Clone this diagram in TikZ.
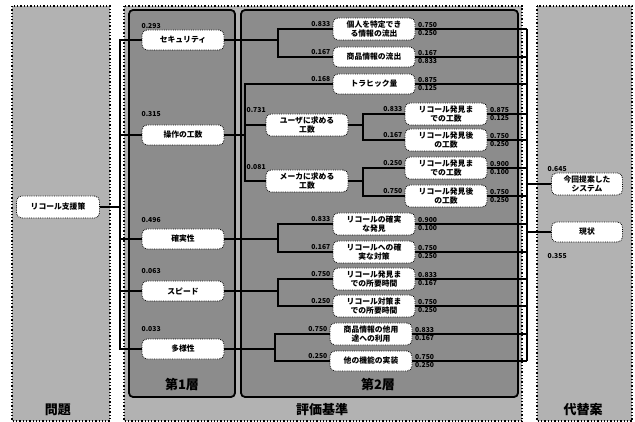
\documentclass[tikz,border=0pt]{standalone}
\usepackage{fontspec}
\setmainfont{Noto Sans CJK JP}
\begin{document}
\begin{tikzpicture}[x=1pt,y=-1pt,
  panel/.style={draw=black, dotted, line width=1.3pt, fill=black!30},
  layerbox/.style={draw=black, line width=1.8pt, rounded corners=4pt, fill=black!45},
  box/.style={draw=black, densely dotted, line width=0.8pt, fill=white, rounded corners=5pt,
    font=\bfseries\fontsize{7.8}{9}\selectfont, align=center, inner sep=1pt,
    minimum width=82pt, minimum height=20pt},
  tall/.style={minimum height=22pt},
  conn/.style={line width=2.4pt},
  w/.style={font=\bfseries\fontsize{6.8}{7}\selectfont, inner sep=0.5pt},
  ttl/.style={font=\bfseries\fontsize{13}{14}\selectfont, inner sep=0pt}
]
\useasboundingbox (0,0) rectangle (635,422);
% panels
\draw[panel] (12,6) rectangle (110,421);
\draw[panel] (124,6) rectangle (522,421);
\draw[panel] (537,6) rectangle (632,421);
\draw[layerbox] (129,10) rectangle (235,397);
\draw[layerbox] (241,10) rectangle (518,397);
\node[ttl] (tp) at (58,410) {問題};
\node[ttl] (te) at (322,410) {評価基準};
\node[ttl] (ta) at (583,410) {代替案};
\node[ttl] (t1) at (182,385) {第1層};
\node[ttl] (t2) at (378,385) {第2層};

% bus coordinates
\coordinate (B1) at (120,0);
\coordinate (B2) at (278,0);
\coordinate (B3) at (245,0);
\coordinate (B4) at (363,0);
\coordinate (B5) at (275,0);
\coordinate (BR) at (527,0);

% nodes
\node[box,tall,minimum width=83pt] (root) at (58,207) {リコール支援策};
\node[box] (sec) at (183,40) {セキュリティ};
\node[box] (ops) at (183,135) {操作の工数};
\node[box] (rel) at (183,239) {確実性};
\node[box] (spd) at (183,291) {スピード};
\node[box] (div) at (183,349) {多様性};

\node[box,tall] (a1) at (374,29) {個人を特定でき\\る情報の流出};
\node[box] (a2) at (374,57) {商品情報の流出};
\node[box] (a3) at (374,84) {トラヒック量};
\node[box,tall] (a4) at (374,224) {リコールの確実\\な発見};
\node[box,tall] (a5) at (374,252) {リコールへの確\\実な対策};
\node[box,tall] (a6) at (374,279) {リコール発見ま\\での所要時間};
\node[box,tall] (a7) at (374,306) {リコール対策ま\\での所要時間};
\node[box,tall] (a8) at (371,334) {商品情報の他用\\途への利用};
\node[box] (a9) at (371,361) {他の機能の実装};

\node[box,tall] (u) at (307,125) {ユーザに求める\\工数};
\node[box,tall] (m) at (307,181) {メーカに求める\\工数};

\node[box,tall] (b1) at (446,114) {リコール発見ま\\での工数};
\node[box,tall] (b2) at (446,140) {リコール発見後\\の工数};
\node[box,tall] (b3) at (446,168) {リコール発見ま\\での工数};
\node[box,tall] (b4) at (446,196) {リコール発見後\\の工数};

\node[box,tall,minimum width=71pt] (s) at (587,184) {今回提案した\\システム};
\node[box,minimum width=71pt] (g) at (587,232) {現状};

\begin{scope}[conn]
\draw (root.east) -- (root.east -| B1);
\draw (sec.west) -- (sec.west -| B1) -- (div.west -| B1) -- (div.west);
\draw (ops.west) -- (ops.west -| B1);
\draw (rel.west) -- (rel.west -| B1);
\draw (spd.west) -- (spd.west -| B1);

\draw (sec.east) -- (sec.east -| B2);
\draw (a1.west) -- (a1.west -| B2) -- (a2.west -| B2) -- (a2.west);

\draw (ops.east) -- (ops.east -| B3);
\draw (a3.west) -- (a3.west -| B3) -- (m.west -| B3) -- (m.west);
\draw (u.west) -- (u.west -| B3);

\draw (u.east) -- (u.east -| B4);
\draw (b1.west) -- (b1.west -| B4) -- (b2.west -| B4) -- (b2.west);
\draw (m.east) -- (m.east -| B4);
\draw (b3.west) -- (b3.west -| B4) -- (b4.west -| B4) -- (b4.west);

\draw (rel.east) -- (rel.east -| B2);
\draw (a4.west) -- (a4.west -| B2) -- (a5.west -| B2) -- (a5.west);
\draw (spd.east) -- (spd.east -| B2);
\draw (a6.west) -- (a6.west -| B2) -- (a7.west -| B2) -- (a7.west);
\draw (div.east) -- (div.east -| B5);
\draw (a8.west) -- (a8.west -| B5) -- (a9.west -| B5) -- (a9.west);

\foreach \n in {a1,a2,a3,b1,b2,b3,b4,a4,a5,a6,a7,a8,a9}
  \draw (\n.east) -- (\n.east -| BR);
\draw (a1.east -| BR) -- (a9.east -| BR);
\draw (s.west -| BR) -- (s.west);
\draw (g.west -| BR) -- (g.west);
\end{scope}

% level-1 weights
\node[w,anchor=south west] (w11) at (141,29) {0.293};
\node[w,anchor=south west] (w12) at (141,117) {0.315};
\node[w,anchor=south west] (w13) at (141,223) {0.496};
\node[w,anchor=south west] (w14) at (141,274) {0.063};
\node[w,anchor=south west] (w15) at (141,332) {0.033};

% input weights
\node[w,anchor=south east] at (331,27) {0.833};
\node[w,anchor=south east] at (331,55) {0.167};
\node[w,anchor=south east] at (331,82) {0.168};
\node[w,anchor=south west] at (246,113) {0.731};
\node[w,anchor=south west] at (246,170) {0.081};
\node[w,anchor=south east] at (403,112) {0.833};
\node[w,anchor=south east] at (403,138) {0.167};
\node[w,anchor=south east] at (403,166) {0.250};
\node[w,anchor=south east] at (403,194) {0.750};
\node[w,anchor=south east] at (331,222) {0.833};
\node[w,anchor=south east] at (331,250) {0.167};
\node[w,anchor=south east] at (331,277) {0.750};
\node[w,anchor=south east] at (331,304) {0.250};
\node[w,anchor=south east] at (328,332) {0.750};
\node[w,anchor=south east] at (328,359) {0.250};

% output weights
\foreach \n/\t/\b in {a1/0.750/0.250, a2/0.167/0.833, a3/0.875/0.125,
   b1/0.875/0.125, b2/0.750/0.250, b3/0.900/0.100, b4/0.750/0.250,
   a4/0.900/0.100, a5/0.750/0.250, a6/0.833/0.167, a7/0.750/0.250,
   a8/0.833/0.167, a9/0.750/0.250} {
  \node[w,anchor=south west] at ([xshift=2pt,yshift=1.2pt]\n.east) {\t};
  \node[w,anchor=north west] at ([xshift=2pt,yshift=-1.2pt]\n.east) {\b};
}

\node[w,anchor=south west] (ws) at (547,172) {0.645};
\node[w,anchor=west] (wg) at (547,256) {0.355};
\end{tikzpicture}
\end{document}
